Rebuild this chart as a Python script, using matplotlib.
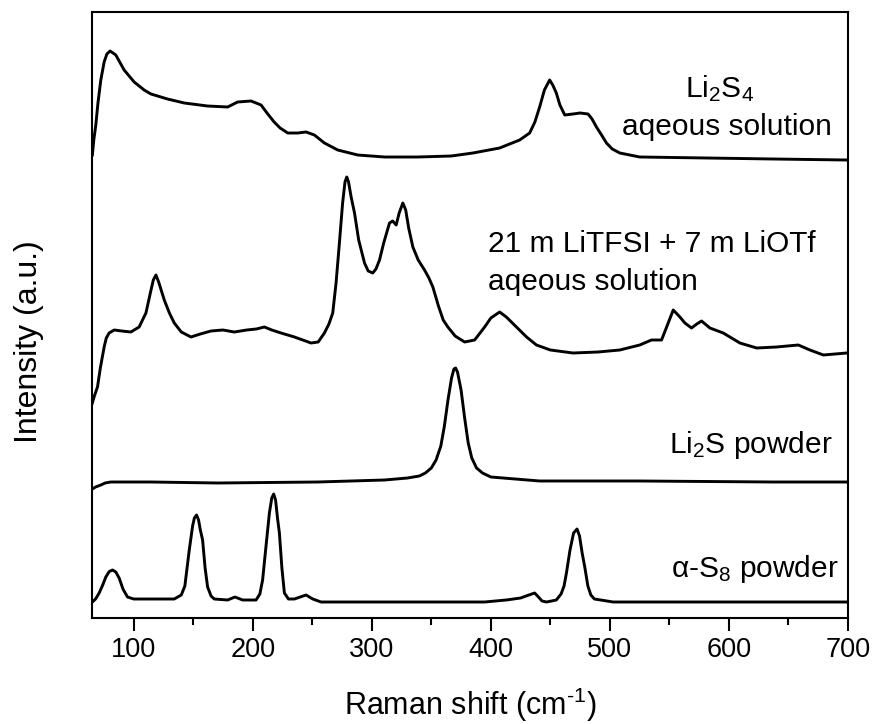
import matplotlib
matplotlib.use("Agg")
import matplotlib.pyplot as plt
from matplotlib.ticker import MultipleLocator

plt.rcParams["font.family"] = ["Liberation Sans", "DejaVu Sans"]
plt.rcParams["mathtext.fontset"] = "custom"
plt.rcParams["mathtext.rm"] = "Liberation Sans"
plt.rcParams["mathtext.default"] = "regular"

# Raman shift (cm-1) and intensity (a.u., stacked offsets already included)
li2s4_x = [65.3, 66.5, 68.2, 70, 72.4, 75.2, 77.5, 80.2, 85, 92, 100.4, 108.8, 114.5, 128.4,
           142.5, 162, 179, 187.3, 198.6, 207, 212, 218, 223, 229.4, 237.8, 244.8, 251.8,
           260.2, 271.4, 288.2, 310.7, 338.7, 366.8, 385, 407.4, 424.2, 432.6, 437, 441, 445,
           449.4, 452, 455, 458, 462.1, 469, 475, 481.7, 485, 488.7, 493, 497.1, 502, 508.3,
           525.1, 581.2, 637.3, 699]
li2s4_y = [463, 478, 493, 515, 538, 556, 564, 567, 563, 548, 536, 528, 524, 519,
           515, 512, 511, 516, 517, 513, 505, 496, 490, 485, 485, 486, 483,
           475, 468, 463, 461, 461, 462, 465, 470, 478, 485, 496, 511, 528,
           538, 533, 525, 513, 503, 504, 505, 504, 499, 491, 483, 475, 469, 465,
           461, 460, 459, 458]

tfsi_x = [65.3, 67, 69.6, 72, 75.2, 77, 79.4, 83.6, 90, 97.6, 104.6, 110.3, 114, 116.5, 118.7,
          121, 125.7, 130, 134.1, 140, 148.1, 156, 164.9, 175, 184.5, 195, 203, 209.8, 216,
          223.8, 235, 249, 255, 260.2, 264, 267.2, 270, 272.8, 275.5, 277.5, 279, 280.5,
          282.5, 285.5, 289, 293.9, 297, 300.8, 303.5, 306.5, 310, 314.9, 317.5, 320.5, 323,
          326.1, 328.5, 331, 334.5, 339, 344.3, 348, 351.3, 356, 360, 363.9, 370, 378, 386.4,
          394.8, 400, 407.4, 413, 421.5, 430, 438.3, 450, 469, 490, 508.3, 525.1, 534.9, 543.4,
          548, 553.2, 558.8, 563, 568.6, 573, 577, 584, 595.2, 609.2, 623.3, 640, 658.3, 668,
          679.3, 699]
tfsi_y = [215, 222, 231, 250, 271, 280, 285, 288, 287, 286, 291, 305, 325, 338, 343,
          336, 318, 305, 295, 286, 281, 284, 287, 288, 286, 288, 289, 291, 288,
          285, 281, 275, 276, 285, 294, 305, 335, 375, 415, 436, 441, 436,
          422, 405, 378, 355, 347, 345, 349, 358, 375, 395, 397, 393, 405,
          415, 408, 390, 371, 358, 348, 340, 331, 312, 298, 291, 282, 276, 278,
          291, 300, 306, 301, 291, 281, 273, 268, 265, 266, 268, 273, 278, 278,
          292, 308, 301, 295, 290, 294, 297, 290, 285, 275, 270, 271, 273, 268,
          263, 265]

li2s_x = [65.3, 68, 72.4, 76, 80.8, 114.5, 170.5, 254.6, 310.7, 330, 340, 345, 350, 354, 358,
          361, 364, 367, 369, 370.4, 372, 375, 378, 381, 384, 388, 393, 400, 441, 525, 637, 699]
li2s_y = [129, 131, 133, 135, 136, 136, 135, 136, 138, 140, 142, 145, 150, 158, 172,
          192, 218, 240, 249, 250, 246, 228, 200, 175, 160, 150, 145, 141, 137, 137, 136, 136]

s8_x = [65.3, 68, 71, 74, 76.6, 79.5, 82.2, 85, 87.8, 91, 94.8, 100, 106, 134.1, 140, 143,
        146.7, 149.5, 151, 152.8, 154.5, 156, 157.9, 160, 162.1, 165, 167.7, 178.9, 185.1,
        191.5, 202.8, 206, 208.3, 211, 214, 216, 217.6, 219.2, 220.8, 222.4, 224.5, 226.6,
        230, 235, 244.8, 250.4, 257.4, 394.8, 413, 425, 432, 436.8, 440, 443, 446.7, 451,
        455, 459, 461.5, 463.5, 466.5, 469.5, 472.4, 474.5, 476.7, 478.9, 481.5, 484, 487,
        502.7, 699]
s8_y = [16, 19, 25, 33, 41, 46.5, 48, 46, 40, 29, 21, 19, 19, 19, 23, 32,
        68, 92, 100, 103, 98, 88, 78, 50, 31, 22, 19, 18, 21,
        18, 18, 24, 38, 70, 105, 120, 124, 118, 100, 85, 50, 25,
        19, 19, 23, 19, 16, 16, 18, 20, 23, 25, 21, 17, 16, 17,
        18, 24, 32, 45, 68, 85, 89, 82, 65, 51, 32, 23, 19,
        16, 16]

fig = plt.figure(figsize=(8.74, 7.24), dpi=100)
ax = fig.add_axes([92 / 874, 1 - 618 / 724, 756 / 874, 606 / 724])

for xs, ys in [(li2s4_x, li2s4_y), (tfsi_x, tfsi_y), (li2s_x, li2s_y), (s8_x, s8_y)]:
    ax.plot(xs, ys, color="black", lw=2.1)

ax.set_xlim(65, 700)
ax.set_ylim(0, 606)
ax.set_yticks([])
ax.xaxis.set_major_locator(MultipleLocator(100))
ax.xaxis.set_minor_locator(MultipleLocator(50))
ax.tick_params(axis="x", which="major", length=9, width=1.5, direction="out", labelsize=19.5, pad=5)
ax.tick_params(axis="x", which="minor", length=5, width=1.5, direction="out")
for sp in ax.spines.values():
    sp.set_linewidth(1.5)

ax.set_xlabel("Raman shift (cm$^{\u20101}$)", fontsize=22, labelpad=16)
ax.set_ylabel("Intensity (a.u.)", fontsize=23)
ax.yaxis.set_label_coords(-0.064, 0.456)

fs = 21.5
ax.text(592.4, 521, "Li$_2$S$_4$", fontsize=fs, ha="center", va="baseline")
ax.text(598.7, 483, "aqeous solution", fontsize=fs, ha="center", va="baseline")
ax.text(397.3, 366, "21 m LiTFSI + 7 m LiOTf", fontsize=fs, ha="left", va="baseline")
ax.text(397.3, 328, "aqeous solution", fontsize=fs, ha="left", va="baseline")
ax.text(687.4, 165, "Li$_2$S powder", fontsize=fs, ha="right", va="baseline")
ax.text(692.5, 41, "\u03b1-S$_8$ powder", fontsize=fs, ha="right", va="baseline")

fig.savefig("out.png", dpi=100)
